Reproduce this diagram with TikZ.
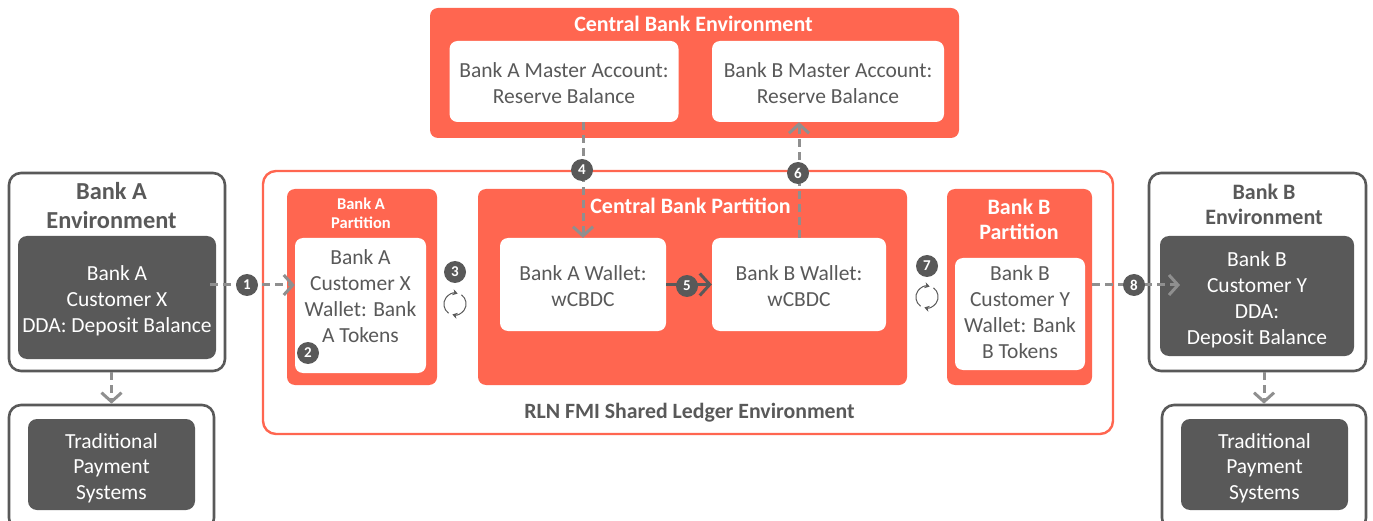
\documentclass[tikz,border=0pt]{standalone}
\usepackage{fontspec}
\setmainfont{Carlito}
\usepackage{tikz}
\usetikzlibrary{arrows.meta, positioning}

\definecolor{coral}{HTML}{FF6650}
\definecolor{slate}{HTML}{595959}
\definecolor{flowgray}{HTML}{8F8F8F}

\newcommand{\syncarcs}[1]{
\draw[syncline] (#1.235) arc[start angle=235, end angle=75, radius=11pt];
\draw[syncline] (#1.55) arc[start angle=55, end angle=-105, radius=11pt];
}

\begin{document}
\begin{tikzpicture}[
    x=1pt, y=-1pt,
    every node/.style={align=center, font=\fontsize{21.5}{25.7}\selectfont, text=slate},
    envbox/.style={rectangle, draw=slate, line width=2.6pt, rounded corners=12pt, fill=white},
    ledgerbox/.style={rectangle, draw=coral, line width=2.4pt, rounded corners=13pt, fill=white},
    coralbox/.style={rectangle, fill=coral, rounded corners=8pt},
    whitebox/.style={rectangle, fill=white, rounded corners=8pt, text depth=0pt},
    darkbox/.style={rectangle, fill=slate, rounded corners=9pt, text=white, text depth=0pt},
    coraltitle/.style={text=white, font=\fontsize{22}{25}\selectfont\bfseries},
    slatetitle/.style={font=\fontsize{22}{25}\selectfont\bfseries},
    badge/.style={circle, fill=slate, text=white, inner sep=0pt, minimum size=22pt, font=\fontsize{15}{15}\selectfont\bfseries},
    flow/.style={draw=flowgray, line width=3pt, dash pattern=on 8pt off 5pt, -{Straight Barb[length=9pt, width=20pt, line width=3pt]}},
    solidflow/.style={draw=slate, line width=3pt, -{Straight Barb[length=10pt, width=22pt, line width=3pt]}},
    syncmark/.style={circle, inner sep=0pt, minimum size=22pt},
    syncline/.style={draw=slate, line width=1pt, -{Stealth[length=5pt, width=6pt]}}
]
\useasboundingbox (0,0) rectangle (1373,521);

% Central bank environment
\node[coralbox, minimum width=529pt, minimum height=130pt] (cbenv) at (694.5,73) {};
\node[coraltitle] (cbenvtitle) at (693.5,24) {Central Bank Environment};
\node[whitebox, minimum width=229pt, minimum height=81pt, text height=44pt] (masterA) at (564,81.5) {Bank A Master Account:\\Reserve Balance};
\node[whitebox, minimum width=232pt, minimum height=81pt, text height=44pt] (masterB) at (828,81.5) {Bank B Master Account:\\Reserve Balance};

% Shared ledger
\node[ledgerbox, minimum width=850pt, minimum height=263pt] (rln) at (688,302.5) {};
\node[slatetitle, font=\fontsize{21.8}{24}\selectfont\bfseries] (rlntitle) at (689.5,413) {RLN FMI Shared Ledger Environment};

\node[coralbox, minimum width=150pt, minimum height=196pt] (partA) at (362,287) {};
\node[coraltitle, font=\fontsize{16.5}{19}\selectfont\bfseries] (partAtitle) at (361,213.5) {Bank A\\Partition};
\node[whitebox, minimum width=131pt, minimum height=135pt, text depth=19pt] (walletX) at (360.5,305.5) {Bank A\\Customer X\\Wallet: Bank\\A Tokens};

\node[coralbox, minimum width=429pt, minimum height=196pt] (partCB) at (692.5,287) {};
\node[coraltitle] (partCBtitle) at (690.5,206) {Central Bank Partition};
\node[whitebox, minimum width=166pt, minimum height=93pt, text height=44pt] (walletA) at (583,284.5) {Bank A Wallet:\\wCBDC};
\node[whitebox, minimum width=174pt, minimum height=93pt, text height=44pt] (walletB) at (799,284.5) {Bank B Wallet:\\wCBDC};

\node[coralbox, minimum width=145pt, minimum height=196pt] (partB) at (1019.5,287) {};
\node[coraltitle] (partBtitle) at (1019,219) {Bank B\\Partition};
\node[whitebox, minimum width=130pt, minimum height=112pt, text depth=4pt] (walletY) at (1020,314) {Bank B\\Customer Y\\Wallet: Bank\\B Tokens};

% Bank A side
\node[envbox, minimum width=216pt, minimum height=198pt] (bankAenv) at (117,272) {};
\node[slatetitle, font=\fontsize{24.4}{29}\selectfont\bfseries] (bankAtitle) at (111.5,205.5) {Bank A\\Environment};
\node[darkbox, minimum width=198pt, minimum height=123pt, text height=69pt] (custA) at (117,297.5) {Bank A\\Customer X\\DDA: Deposit Balance};
\node[envbox, minimum width=205pt, minimum height=125pt] (tradAouter) at (111.5,467.5) {};
\node[darkbox, minimum width=167pt, minimum height=91pt, text height=70pt] (tradA) at (111.5,464.5) {Traditional\\Payment\\Systems};

% Bank B side
\node[envbox, minimum width=217pt, minimum height=198pt] (bankBenv) at (1257.5,272) {};
\node[slatetitle] (bankBtitle) at (1264,204.5) {Bank B\\Environment};
\node[darkbox, minimum width=194pt, minimum height=120pt, text height=96pt] (custY) at (1257,296) {Bank B\\Customer Y\\DDA:\\Deposit Balance};
\node[envbox, minimum width=204pt, minimum height=125pt] (tradBouter) at (1264,467.5) {};
\node[darkbox, minimum width=167pt, minimum height=91pt, text height=70pt] (tradB) at (1264.5,464.5) {Traditional\\Payment\\Systems};

% Free ends
\coordinate (custAout) at (210,285);
\coordinate (custYin) at (1180,285);

% Flows
\draw[flow] (custAout) -- (walletX.west |- custAout);
\draw[flow] (bankAenv.south -| tradAouter.north) -- (tradAouter.north);
\draw[flow] (walletA.north |- masterA.south) -- (walletA.north);
\draw[solidflow] (walletA.east) -- (walletB.west);
\draw[flow] (walletB.north) -- (walletB.north |- masterB.south);
\draw[flow] (partB.east |- custYin) -- (custYin);
\draw[flow] (bankBenv.south -| tradBouter.north) -- (tradBouter.north);

% Steps
\node[badge] (step1) at (247,285) {1};
\node[badge] (step2) at (308,353) {2};
\node[badge] (step3) at (455,272) {3};
\node[badge] (step4) at (582,170) {4};
\node[badge] (step5) at (687,286) {5};
\node[badge] (step6) at (798,173) {6};
\node[badge] (step7) at (927,266) {7};
\node[badge] (step8) at (1134,285) {8};

% Sync marks
\node[syncmark] (syncA) at (455,304) {};
\node[syncmark] (syncB) at (927,297) {};
\syncarcs{syncA}
\syncarcs{syncB}

\end{tikzpicture}
\end{document}
